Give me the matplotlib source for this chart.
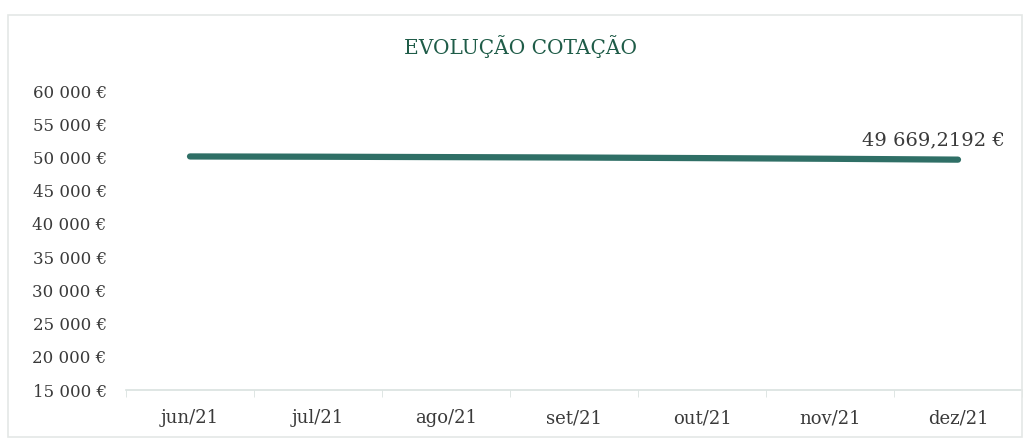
import matplotlib.pyplot as plt
from matplotlib.patches import Rectangle

# ---------------------------------------------------
# Data
# ---------------------------------------------------
months = ["jun/21", "jul/21", "ago/21", "set/21", "out/21", "nov/21", "dez/21"]
values = [50150, 50110, 50050, 49990, 49900, 49800, 49669.2192]
y_ticks = [15000, 20000, 25000, 30000, 35000, 40000, 45000, 50000, 55000, 60000]

plt.rcParams["font.family"] = ["DejaVu Serif"]

fig = plt.figure(figsize=(10.24, 4.4), dpi=100)
fig.patches.append(Rectangle((8 / 1024, 1 - 437 / 440), 1014 / 1024, 422 / 440,
                             transform=fig.transFigure, fill=False,
                             edgecolor="#e4e8e6", linewidth=1.2))

ax = fig.add_axes([126 / 1024, 1 - 390 / 440, 896 / 1024, 299 / 440])

x = list(range(len(months)))
ax.plot(x, values, color="#2f6f66", linewidth=4.5, solid_capstyle="round")

ax.set_xlim(-0.5, len(months) - 0.5)
ax.set_ylim(15000, 60000)
ax.set_yticks(y_ticks)
ax.set_yticklabels([f"{v:,}".replace(",", " ") + " €" for v in y_ticks])
ax.set_xticks(x)
ax.set_xticklabels(months)

ax.tick_params(axis="y", length=0, pad=14, labelsize=12, colors="#3a3a3a")
ax.tick_params(axis="x", length=0, pad=14, labelsize=13, colors="#3a3a3a")
ax.set_xticks([i - 0.5 for i in range(len(months) + 1)], minor=True)
ax.tick_params(axis="x", which="minor", length=5, color="#d9e2df")

for side in ["top", "right", "left"]:
    ax.spines[side].set_visible(False)
ax.spines["bottom"].set_color("#d9e2df")
ax.spines["bottom"].set_linewidth(1.2)

last = values[-1]
label = f"{last:,.4f}".replace(",", " ").replace(".", ",") + " €"
ax.annotate(label, (x[-1], last), xytext=(34, 14), textcoords="offset points",
            ha="right", va="center", fontsize=14, color="#3a3a3a")

fig.text(521 / 1024, 1 - 47 / 440, "EVOLUÇÃO COTAÇÃO", ha="center", va="center",
         fontsize=14.5, color="#1f5c48")

fig.savefig("out.png", dpi=100)
